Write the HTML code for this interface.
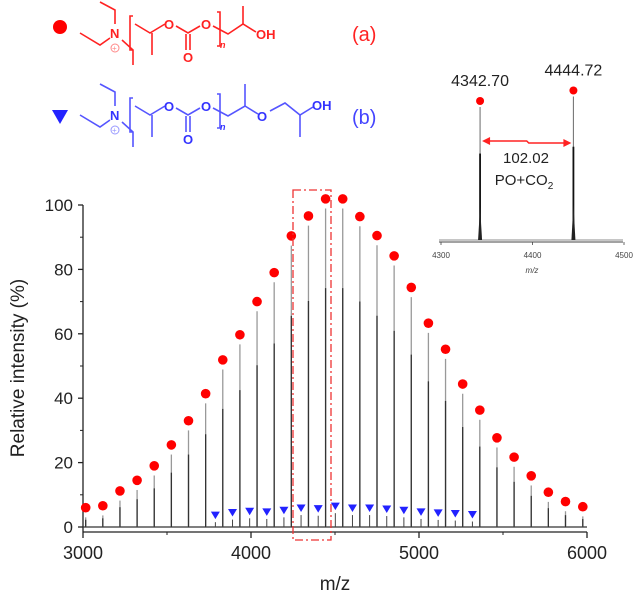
<!DOCTYPE html>
<html><head><meta charset="utf-8"><style>
html,body{margin:0;padding:0;background:#fff;}
svg{display:block;font-family:"Liberation Sans",Arial,sans-serif;}
</style></head><body>
<svg id="chart" width="634" height="595" viewBox="0 0 634 595">
 <g id="structA" stroke="#f22" stroke-width="1.6" fill="none">
  <circle cx="60" cy="27" r="7" fill="#f00" stroke="none"/>
  <polyline points="100,2 115,10 115,24"/><polyline points="80,33 100,45 110,38"/><polyline points="122,40 133,50 133,65"/>
  <polyline points="133,16 130,16 130,50 133,50"/>
  <polyline points="135,24 150,33 165,24"/><line x1="152" y1="33" x2="152" y2="55"/>
  <polyline points="176,26 188,33 200,26"/><line x1="186" y1="34" x2="186" y2="50"/><line x1="190" y1="34" x2="190" y2="50"/>
  <polyline points="217,12 220,12 220,46 217,46"/>
  <polyline points="213,26 228,34 243,24 256,32"/><line x1="243" y1="24" x2="243" y2="6"/>
  <circle cx="115" cy="48" r="4" stroke="#f88" stroke-width="1"/>
 </g>
 <g fill="#f22" font-weight="bold" font-size="13">
  <text x="110" y="38">N</text><text x="164" y="29">O</text><text x="201" y="29">O</text><text x="183" y="62">O</text><text x="256" y="39">OH</text>
  <text x="112" y="51" font-size="8" font-weight="normal" fill="#f88">+</text>
  <text x="220" y="48" font-size="9" font-style="italic">n</text>
 </g>
 <text x="352" y="41" fill="#f22" font-size="20">(a)</text>
 <g id="structB" stroke="#55f" stroke-width="1.6" fill="none">
  <polygon points="52,110 68,110 60,124" fill="#22f" stroke="none"/>
  <polyline points="100,84 115,92 115,106"/><polyline points="80,115 100,127 110,120"/><polyline points="122,122 133,132 133,147"/>
  <polyline points="133,98 130,98 130,132 133,132"/>
  <polyline points="135,106 150,115 165,106"/><line x1="152" y1="115" x2="152" y2="137"/>
  <polyline points="176,108 188,115 200,108"/><line x1="186" y1="116" x2="186" y2="132"/><line x1="190" y1="116" x2="190" y2="132"/>
  <polyline points="217,94 220,94 220,128 217,128"/>
  <polyline points="213,108 228,116 245,106 258,114"/><line x1="245" y1="106" x2="245" y2="84"/>
  <polyline points="270,111 285,103 300,115 313,107"/><line x1="300" y1="115" x2="300" y2="137"/>
  <circle cx="115" cy="130" r="4" stroke="#99f" stroke-width="1"/>
 </g>
 <g fill="#33f" font-weight="bold" font-size="13">
  <text x="110" y="120">N</text><text x="164" y="111">O</text><text x="201" y="111">O</text><text x="183" y="144">O</text><text x="257" y="121">O</text><text x="312" y="110">OH</text>
  <text x="112" y="133" font-size="8" font-weight="normal" fill="#99f">+</text>
  <text x="220" y="130" font-size="9" font-style="italic">n</text>
 </g>
 <text x="352" y="124" fill="#44f" font-size="20">(b)</text>
 <g id="axes"></g>
 <g id="marks"></g>
 <g id="inset"></g>
</svg>
<script>
const NS="http://www.w3.org/2000/svg";
const redMass=[3016,3118,3220,3322,3424,3526,3628,3730,3832,3934,4036,4138,4240,4342,4444,4546,4648,4750,4852,4954,5056,5158,5260,5362,5464,5566,5668,5770,5872,5975];
const redVal=[6.0,6.6,11.2,14.5,19,25.5,33,41.4,51.9,59.7,70,79,90.4,96.6,101.9,101.9,96.4,90.5,84.2,74.4,63.3,55.2,44.4,36.3,27.7,21.7,15.9,10.8,7.9,6.3];
const blueMass=[3788,3890,3992,4094,4196,4298,4400,4502,4604,4706,4808,4910,5012,5114,5216,5318];
const blueVal=[3.7,4.5,4.9,4.7,5.2,5.9,5.7,6.5,5.9,5.9,5.6,5.2,4.7,4.4,4.2,3.9];
const xTicks=[3000,4000,5000,6000];
const yTicks=[0,20,40,60,80,100];
const insetMass=[4342.70,4444.72];
const insetVal=[90,97];
const insetTicks=[4300,4400,4500];
function X(m){return 83+(m-3000)*504/3000;}
function Y(v){return 527-v*3.22;}
function IX(m){return 441+(m-4300)*0.915;}
function IY(v){return 242-v*1.5;}
function el(tag,attrs,parent,txt){const e=document.createElementNS(NS,tag);for(const k in attrs)e.setAttribute(k,attrs[k]);if(txt!==undefined)e.textContent=txt;parent.appendChild(e);return e;}
const axes=document.getElementById('axes'),marks=document.getElementById('marks'),inset=document.getElementById('inset');
let a=el('line',{x1:83,y1:532,x2:587,y2:532,stroke:'#222','stroke-width':1.3},axes);


a=el('line',{x1:83,y1:205,x2:83,y2:532,stroke:'#222','stroke-width':1.3},axes);


xTicks.forEach(t=>{el('line',{x1:X(t),y1:532,x2:X(t),y2:538,stroke:'#222','stroke-width':1.3},axes);
 const tx=el('text',{x:X(t),y:559,'text-anchor':'middle','font-size':18,fill:'#222'},axes,String(t));
 
 });
[3500,4500,5500].forEach(t=>el('line',{x1:X(t),y1:532,x2:X(t),y2:535,stroke:'#222','stroke-width':1},axes));
yTicks.forEach(t=>{el('line',{x1:78,y1:Y(t),x2:83,y2:Y(t),stroke:'#222','stroke-width':1.3},axes);
 const tx=el('text',{x:73,y:Y(t)+6,'text-anchor':'end','font-size':17,fill:'#222'},axes,String(t));
 
 });
[10,30,50,70,90].forEach(t=>el('line',{x1:80,y1:Y(t),x2:83,y2:Y(t),stroke:'#222','stroke-width':1},axes));
let tt=el('text',{x:335,y:590,'text-anchor':'middle','font-size':19,fill:'#222'},axes,'m/z');


tt=el('text',{x:0,y:0,'text-anchor':'middle','font-size':19,fill:'#222',transform:'translate(24,368) rotate(-90)'},axes,'Relative intensity (%)');


el('line',{x1:83,y1:527,x2:587,y2:527,stroke:'#333','stroke-width':1.2},marks);
redMass.forEach((m,i)=>{const v=redVal[i];
 const p=el('line',{x1:X(m),y1:527,x2:X(m),y2:Y(v-3),stroke:'#999','stroke-width':1.3},marks);
 
 
 el('line',{x1:X(m),y1:527,x2:X(m),y2:Y((v-3)*0.75),stroke:'#333','stroke-width':1.3},marks);});
blueMass.forEach((m,i)=>{const p=el('line',{x1:X(m),y1:527,x2:X(m),y2:Y(blueVal[i]-2.2),stroke:'#444','stroke-width':1},marks);
 
 });
redMass.forEach((m,i)=>{const c=el('circle',{cx:X(m),cy:Y(redVal[i]),r:4.8,fill:'#f00'},marks);
 
 });
blueMass.forEach((m,i)=>{const x=X(m),y=Y(blueVal[i]);
 const t=el('polygon',{points:`${x-4.5},${y-3.5} ${x+4.5},${y-3.5} ${x},${y+4}`,fill:'#22f'},marks);
 
 });
let zb=el('rect',{x:293,y:190,width:38,height:350,fill:'none',stroke:'#e33','stroke-width':1.3,'stroke-dasharray':'8,3,2,3'},marks);


let ia=el('line',{x1:439,y1:242,x2:623,y2:242,stroke:'#444','stroke-width':1},inset);


el('line',{x1:439,y1:240,x2:623,y2:240,stroke:'#666','stroke-width':0.8},inset);
insetTicks.forEach(t=>{el('line',{x1:IX(t),y1:242,x2:IX(t),y2:245,stroke:'#444','stroke-width':0.8},inset);
 const tx=el('text',{x:IX(t),y:258,'text-anchor':'middle','font-size':8,fill:'#444'},inset,String(t));
 
 });
tt=el('text',{x:532,y:273,'text-anchor':'middle','font-size':8,'font-style':'italic',fill:'#444'},inset,'m/z');


insetMass.forEach((m,i)=>{const x=IX(m),top=IY(insetVal[i]);
 const p=el('line',{x1:x,y1:240,x2:x,y2:top,stroke:'#777','stroke-width':1.1},inset);
 
 
 el('line',{x1:x,y1:240,x2:x,y2:top+(240-top)*0.35,stroke:'#111','stroke-width':1.8},inset);
 el('polygon',{points:`${x-2},240 ${x},${240-(240-top)*0.25} ${x+2},240`,fill:'#222'},inset);
 const c=el('circle',{cx:x,cy:top-6,r:4,fill:'#f00'},inset);
 
 
 const tx=el('text',{x:x,y:top-21,'text-anchor':'middle','font-size':16,fill:'#222'},inset,m.toFixed(2));
 
 });
const ax1=IX(insetMass[0])+2,ax2=IX(insetMass[1])-2;
let ar=el('polyline',{points:`${ax1+6},141 ${(ax1+ax2)/2},141 ${(ax1+ax2)/2+2},143 ${ax2-6},143`,fill:'none',stroke:'#f22','stroke-width':1.5},inset);


el('polygon',{points:`${ax1},141 ${ax1+8},137 ${ax1+8},145`,fill:'#f22'},inset);
el('polygon',{points:`${ax2},143 ${ax2-8},139 ${ax2-8},147`,fill:'#f22'},inset);
tt=el('text',{x:526,y:163,'text-anchor':'middle','font-size':15,fill:'#222'},inset,'102.02');


tt=el('text',{x:524,y:185,'text-anchor':'middle','font-size':15,fill:'#222'},inset);


tt.innerHTML='PO+CO<tspan font-size="10" dy="4">2</tspan>';
</script>
</body></html>
